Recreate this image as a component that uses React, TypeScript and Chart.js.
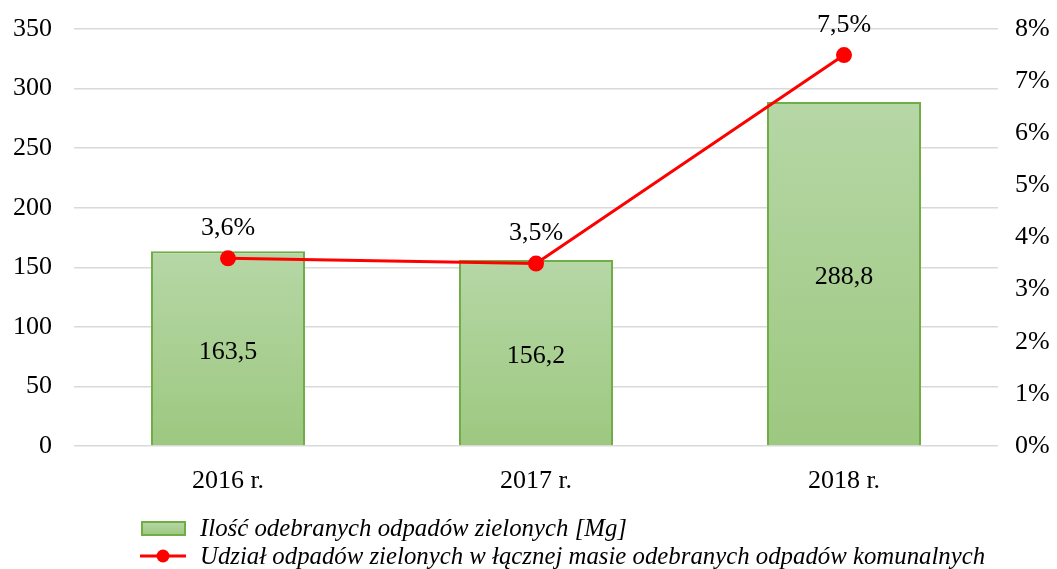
import { useEffect, useRef } from "react";
import { Chart, registerables } from "chart.js";

Chart.register(...registerables);

const categories = ["2016 r.", "2017 r.", "2018 r."];
const amounts = [163.5, 156.2, 288.8];
const shares = [3.6, 3.5, 7.5];
const leftMax = 350;
const leftStep = 50;
const rightMax = 8;
const rightStep = 1;
const legendBar = "Ilość odebranych odpadów zielonych [Mg]";
const legendLine = "Udział odpadów zielonych w łącznej masie odebranych odpadów komunalnych";

const FONT = "'Liberation Serif', serif";
const FS = 26;
const GREEN_TOP = "#b6d7a6";
const GREEN_BOTTOM = "#9dc880";
const GREEN_BORDER = "#70ad47";
const RED = "#ff0000";

const fmt = (v: number) => v.toFixed(1).replace(".", ",");

const labelsPlugin = {
  id: "valueLabels",
  afterDatasetsDraw(chart: any) {
    const ctx = chart.ctx;
    ctx.save();
    ctx.fillStyle = "#000";
    ctx.font = `${FS}px ${FONT}`;
    ctx.textAlign = "center";
    ctx.textBaseline = "middle";
    const barMeta = chart.getDatasetMeta(0);
    barMeta.data.forEach((el: any, i: number) => {
      ctx.fillText(fmt(amounts[i]), el.x, (el.y + el.base) / 2 + 4);
    });
    const lineMeta = chart.getDatasetMeta(1);
    lineMeta.data.forEach((el: any, i: number) => {
      ctx.fillText(fmt(shares[i]) + "%", el.x, el.y - 30);
    });
    ctx.restore();
  },
};

const legendPlugin = {
  id: "customLegend",
  afterDraw(chart: any) {
    const ctx = chart.ctx;
    ctx.save();
    const g = ctx.createLinearGradient(0, 522, 0, 535);
    g.addColorStop(0, GREEN_TOP);
    g.addColorStop(1, GREEN_BOTTOM);
    ctx.fillStyle = g;
    ctx.fillRect(142, 522, 43, 13);
    ctx.strokeStyle = GREEN_BORDER;
    ctx.lineWidth = 2;
    ctx.strokeRect(142, 522, 43, 13);
    ctx.strokeStyle = RED;
    ctx.lineWidth = 3;
    ctx.beginPath();
    ctx.moveTo(140, 556);
    ctx.lineTo(186, 556);
    ctx.stroke();
    ctx.fillStyle = RED;
    ctx.beginPath();
    ctx.arc(163, 556, 6.5, 0, Math.PI * 2);
    ctx.fill();
    ctx.fillStyle = "#000";
    ctx.font = `italic 24.8px ${FONT}`;
    ctx.textAlign = "left";
    ctx.textBaseline = "middle";
    ctx.fillText(legendBar, 200, 529);
    ctx.fillText(legendLine, 200, 557);
    ctx.restore();
  },
};

export default function App() {
  const ref = useRef<HTMLCanvasElement | null>(null);
  useEffect(() => {
    if (!ref.current) return;
    const barGradient = (context: any) => {
      const chart = context.chart;
      const { chartArea } = chart;
      if (!chartArea) return GREEN_BOTTOM;
      const y = chart.scales.y;
      const v = context.raw as number;
      const top = y.getPixelForValue(v ?? 0);
      const bottom = y.getPixelForValue(0);
      if (!isFinite(top) || top === bottom) return GREEN_BOTTOM;
      const g = chart.ctx.createLinearGradient(0, top, 0, bottom);
      g.addColorStop(0, GREEN_TOP);
      g.addColorStop(1, GREEN_BOTTOM);
      return g;
    };
    const chart = new Chart(ref.current, {
      type: "bar",
      data: {
        labels: categories,
        datasets: [
          {
            type: "bar",
            label: legendBar,
            data: amounts,
            backgroundColor: barGradient,
            borderColor: GREEN_BORDER,
            borderWidth: 2,
            borderSkipped: "start",
            barPercentage: 0.5,
            categoryPercentage: 1,
            yAxisID: "y",
            order: 2,
          },
          {
            type: "line",
            label: legendLine,
            data: shares,
            borderColor: RED,
            backgroundColor: RED,
            borderWidth: 3,
            pointRadius: 6.5,
            pointBackgroundColor: RED,
            pointBorderColor: RED,
            yAxisID: "y1",
            order: 1,
          },
        ],
      } as any,
      options: {
        animation: false,
        responsive: true,
        maintainAspectRatio: false,
        layout: { padding: { top: 29, left: 0, right: 0, bottom: 0 } },
        plugins: {
          legend: { display: false },
          tooltip: { enabled: false },
        },
        scales: {
          x: {
            grid: { display: false },
            border: { display: false },
            ticks: {
              color: "#000",
              font: { family: FONT, size: FS },
              padding: 12,
            },
            afterFit: (s: any) => {
              s.height = 123;
              s.paddingLeft = 0;
              s.paddingRight = 0;
            },
          },
          y: {
            position: "left",
            min: 0,
            max: leftMax,
            ticks: {
              stepSize: leftStep,
              color: "#000",
              font: { family: FONT, size: FS },
              padding: 22,
            },
            grid: { color: "#d9d9d9", lineWidth: 1.5, drawTicks: false },
            border: { display: false },
            afterFit: (s: any) => {
              s.width = 74;
              s.paddingTop = 0;
              s.paddingBottom = 0;
            },
          },
          y1: {
            position: "right",
            min: 0,
            max: rightMax,
            ticks: {
              stepSize: rightStep,
              color: "#000",
              font: { family: FONT, size: FS },
              padding: 17,
              callback: (v: any) => `${v}%`,
            },
            grid: { display: false, drawTicks: false },
            border: { display: false },
            afterFit: (s: any) => {
              s.width = 59;
              s.paddingTop = 0;
              s.paddingBottom = 0;
            },
          },
        },
      },
      plugins: [labelsPlugin, legendPlugin],
    });
    return () => chart.destroy();
  }, []);
  return (
    <div style={{ position: "absolute", left: 0, top: 0, width: 1057, height: 569, background: "#fff" }}>
      <canvas ref={ref} />
    </div>
  );
}
